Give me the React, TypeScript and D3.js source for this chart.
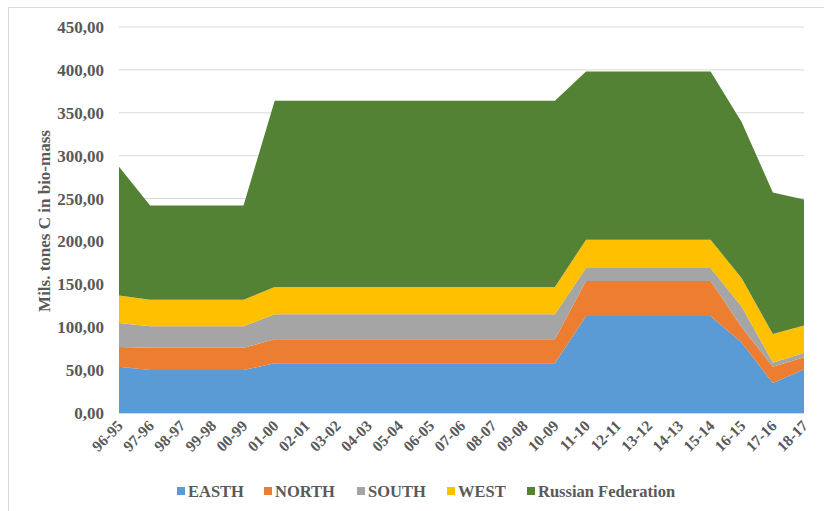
import { useEffect, useRef } from 'react';
import { axisLeft, scaleLinear, scalePoint, select, stack, area } from 'd3';

const years = [
  '96-95', '97-96', '98-97', '99-98', '00-99', '01-00', '02-01', '03-02',
  '04-03', '05-04', '06-05', '07-06', '08-07', '09-08', '10-09', '11-10',
  '12-11', '13-12', '14-13', '15-14', '16-15', '17-16', '18-17',
];

const easth = [54, 50, 50, 50, 50, 58, 58, 58, 58, 58, 58, 58, 58, 58, 58, 113, 113, 113, 113, 113, 82, 35, 51];
const north = [23, 26, 26, 26, 26, 28, 28, 28, 28, 28, 28, 28, 28, 28, 28, 41, 41, 41, 41, 41, 18, 19, 14];
const south = [28, 25, 25, 25, 25, 29, 29, 29, 29, 29, 29, 29, 29, 29, 29, 15, 15, 15, 15, 15, 24, 5, 5];
const west = [32, 31, 31, 31, 31, 32, 32, 32, 32, 32, 32, 32, 32, 32, 32, 33, 33, 33, 33, 33, 33, 33, 32];
const russia = [150, 110, 110, 110, 110, 217, 217, 217, 217, 217, 217, 217, 217, 217, 217, 196, 196, 196, 196, 196, 182, 165, 147];

const seriesNames = ['EASTH', 'NORTH', 'SOUTH', 'WEST', 'Russian Federation'];
const colors = ['#5b9bd5', '#ed7d31', '#a5a5a5', '#ffc000', '#548235'];
const yTicks = [0, 50, 100, 150, 200, 250, 300, 350, 400, 450];

export default function App() {
  const ref = useRef<SVGSVGElement>(null);

  useEffect(() => {
    const svg = select(ref.current);
    svg.selectAll('*').remove();

    const font = '"Liberation Serif", "Times New Roman", serif';
    const textColor = '#595959';

    // chart border
    svg.append('rect')
      .attr('x', 8.5).attr('y', 7.5)
      .attr('width', 830).attr('height', 520)
      .attr('fill', 'white')
      .attr('stroke', '#d9d9d9');

    const left = 119, right = 804, top = 27, bottom = 413;

    const x = scalePoint<string>().domain(years).range([left, right]);
    const y = scaleLinear().domain([0, 450]).range([bottom, top]);

    // gridlines
    svg.append('g')
      .selectAll('line')
      .data(yTicks.slice(1))
      .join('line')
      .attr('x1', left).attr('x2', right)
      .attr('y1', (d) => y(d)).attr('y2', (d) => y(d))
      .attr('stroke', '#d9d9d9').attr('stroke-width', 1);

    const rows = years.map((yr, i) => ({
      year: yr,
      EASTH: easth[i],
      NORTH: north[i],
      SOUTH: south[i],
      WEST: west[i],
      'Russian Federation': russia[i],
    }));

    const stacked = stack<any>().keys(seriesNames)(rows);
    const areaGen = area<any>()
      .x((d) => x(d.data.year) as number)
      .y0((d) => y(d[0]))
      .y1((d) => y(d[1]));

    svg.append('g')
      .selectAll('path')
      .data(stacked)
      .join('path')
      .attr('d', (d) => areaGen(d) as string)
      .attr('fill', (_, i) => colors[i]);

    // baseline
    svg.append('line')
      .attr('x1', left).attr('x2', right)
      .attr('y1', bottom + 0.5).attr('y2', bottom + 0.5)
      .attr('stroke', '#d9d9d9');

    // y axis
    const yAxis = svg.append('g')
      .attr('transform', `translate(${left - 15},0)`)
      .call(axisLeft(y).tickValues(yTicks).tickSize(0).tickPadding(0)
        .tickFormat((d) => (d as number).toFixed(2).replace('.', ',')));
    yAxis.select('.domain').remove();
    yAxis.selectAll('text')
      .attr('font-family', font).attr('font-size', 17).attr('font-weight', 'bold')
      .attr('fill', textColor);

    // x labels
    svg.append('g')
      .selectAll('text')
      .data(years)
      .join('text')
      .attr('transform', (d) => `translate(${(x(d) as number) + 1},${bottom + 10}) rotate(-45)`)
      .attr('text-anchor', 'end')
      .attr('dy', '0.35em')
      .attr('font-family', font).attr('font-size', 15.5).attr('font-weight', 'bold')
      .attr('fill', textColor)
      .text((d) => d);

    // y title
    svg.append('text')
      .attr('transform', `translate(50,221) rotate(-90)`)
      .attr('text-anchor', 'middle')
      .attr('font-family', font).attr('font-size', 17).attr('font-weight', 'bold')
      .attr('fill', textColor)
      .text('Mils. tones C in bio-mass');

    // legend
    const legendX = [177, 264, 357, 447, 527];
    const lg = svg.append('g')
      .selectAll('g')
      .data(seriesNames)
      .join('g')
      .attr('transform', (_, i) => `translate(${legendX[i]},491)`);
    lg.append('rect')
      .attr('x', 0).attr('y', -4).attr('width', 8).attr('height', 8)
      .attr('fill', (_, i) => colors[i]);
    lg.append('text')
      .attr('x', 11).attr('dy', '0.35em')
      .attr('font-family', font).attr('font-size', 16.5).attr('font-weight', 'bold')
      .attr('fill', textColor)
      .text((d) => d);
  }, []);

  return (
    <svg
      ref={ref}
      width={824}
      height={511}
      style={{ display: 'block', position: 'absolute', left: 0, top: 0 }}
    />
  );
}
